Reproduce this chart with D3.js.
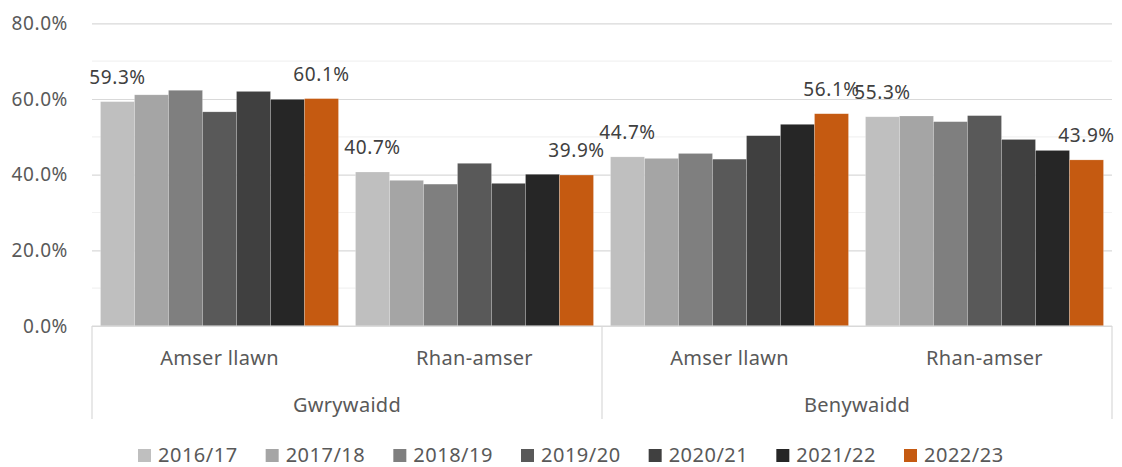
<!DOCTYPE html>
<html>
<head>
<meta charset="utf-8">
<script src="https://cdn.jsdelivr.net/npm/d3@7"></script>
<style>
    body { margin: 0; background: #fff; }
    svg { display: block; font-family: "Noto Sans", sans-serif; }
</style>
</head>
<body>
<div id="chart"></div>
<script>
// Data
var years = ["2016/17", "2017/18", "2018/19", "2019/20", "2020/21", "2021/22", "2022/23"];
var groups = ["Gwrywaidd", "Benywaidd"];
var categories = ["Amser llawn", "Rhan-amser"];

// one array per year: Gwrywaidd/Amser llawn, Gwrywaidd/Rhan-amser, Benywaidd/Amser llawn, Benywaidd/Rhan-amser
var v2016 = [59.3, 40.7, 44.7, 55.3];
var v2017 = [61.1, 38.5, 44.3, 55.5];
var v2018 = [62.3, 37.5, 45.6, 54.0];
var v2019 = [56.6, 43.0, 44.1, 55.6];
var v2020 = [62.0, 37.7, 50.3, 49.3];
var v2021 = [59.9, 40.1, 53.3, 46.4];
var v2022 = [60.1, 39.9, 56.1, 43.9];
var seriesValues = [v2016, v2017, v2018, v2019, v2020, v2021, v2022];

var yTicks = [0, 20, 40, 60, 80];
var yMinor = [10, 30, 50, 70];

var colors = ["#bfbfbf", "#a5a5a5", "#7f7f7f", "#595959", "#404040", "#262626", "#c55a11"];

var W = 1122, H = 467;
var plotLeft = 92, plotRight = 1112, plotTop = 23.3, plotBottom = 326;

var svg = d3.select("#chart").append("svg")
    .attr("width", W)
    .attr("height", H);

// clusters = group x category
var clusters = [];
groups.forEach(function (g) {
    categories.forEach(function (c) {
        clusters.push(g + "|" + c);
    });
});

var x0 = d3.scaleBand().domain(clusters).range([plotLeft, plotRight]);
var x1 = d3.scaleBand().domain(years).range([0, x0.bandwidth()]).paddingOuter(0.25);
var xg = d3.scaleBand().domain(groups).range([plotLeft, plotRight]);
var y = d3.scaleLinear().domain([0, 80]).range([plotBottom, plotTop]);

// minor gridlines
svg.append("g")
    .selectAll("line")
    .data(yMinor)
    .enter().append("line")
    .attr("x1", plotLeft).attr("x2", plotRight)
    .attr("y1", function (d) { return y(d); })
    .attr("y2", function (d) { return y(d); })
    .style("stroke", "#f2f2f2")
    .style("stroke-width", 1.2);

// major gridlines + labels
var yAxis = svg.append("g")
    .attr("transform", "translate(" + plotLeft + ",0)")
    .call(d3.axisLeft(y).tickValues(yTicks).tickSize(-(plotRight - plotLeft)).tickPadding(24)
        .tickFormat(function (d) { return d.toFixed(1) + "%"; }));
yAxis.select(".domain").remove();
yAxis.selectAll("line").style("stroke", "#d9d9d9").style("stroke-width", 1.2);
yAxis.selectAll("text")
    .style("font-size", "19px")
    .style("fill", "#595959")
    .style("letter-spacing", "0.6px")
    .style("font-family", "'Noto Sans', sans-serif");

// bars
var rows = [];
years.forEach(function (yr, i) {
    clusters.forEach(function (c, j) {
        rows.push({ year: yr, idx: i, cluster: c, ci: j, value: seriesValues[i][j] });
    });
});

svg.append("g")
    .selectAll("rect")
    .data(rows)
    .enter().append("rect")
    .attr("x", function (d) { return x0(d.cluster) + x1(d.year); })
    .attr("y", function (d) { return y(d.value); })
    .attr("width", x1.bandwidth())
    .attr("height", function (d) { return y(0) - y(d.value); })
    .style("fill", function (d) { return colors[d.idx]; })
    .style("stroke", "rgba(255,255,255,0.35)")
    .style("stroke-width", 0.6);

// data labels only on first and last series
svg.append("g")
    .selectAll("text")
    .data(rows.filter(function (d) { return d.idx === 0 || d.idx === years.length - 1; }))
    .enter().append("text")
    .attr("x", function (d) { return x0(d.cluster) + x1(d.year) + x1.bandwidth() / 2; })
    .attr("y", function (d) { return y(d.value) - 18; })
    .attr("text-anchor", "middle")
    .style("font-size", "19px")
    .style("letter-spacing", "0.6px")
    .style("fill", "#404040")
    .text(function (d) { return d.value.toFixed(1) + "%"; });

// category axis
svg.append("line")
    .attr("x1", plotLeft).attr("x2", plotRight)
    .attr("y1", plotBottom).attr("y2", plotBottom)
    .style("stroke", "#d9d9d9").style("stroke-width", 1.2);

var dividers = [plotLeft].concat(groups.map(function (g) { return xg(g) + xg.bandwidth(); }));
svg.append("g")
    .selectAll("line")
    .data(dividers)
    .enter().append("line")
    .attr("x1", function (d) { return d; })
    .attr("x2", function (d) { return d; })
    .attr("y1", plotBottom).attr("y2", 419)
    .style("stroke", "#d9d9d9").style("stroke-width", 1.2);

svg.append("g")
    .selectAll("text")
    .data(clusters)
    .enter().append("text")
    .attr("x", function (d) { return x0(d) + x0.bandwidth() / 2; })
    .attr("y", 365)
    .attr("text-anchor", "middle")
    .style("font-size", "20px")
    .style("letter-spacing", "0.3px")
    .style("fill", "#595959")
    .text(function (d) { return d.split("|")[1]; });

svg.append("g")
    .selectAll("text")
    .data(groups)
    .enter().append("text")
    .attr("x", function (d) { return xg(d) + xg.bandwidth() / 2; })
    .attr("y", 412)
    .attr("text-anchor", "middle")
    .style("font-size", "20px")
    .style("letter-spacing", "0.3px")
    .style("fill", "#595959")
    .text(function (d) { return d; });

// legend
var lx = d3.scalePoint().domain(years).range([138, 904]);
var legend = svg.append("g")
    .selectAll("g")
    .data(years)
    .enter().append("g")
    .attr("transform", function (d) { return "translate(" + lx(d) + ",449)"; });

legend.append("rect")
    .attr("width", 13).attr("height", 13)
    .style("fill", function (d, i) { return colors[i]; });

legend.append("text")
    .attr("x", 20)
    .attr("y", 13)
    .style("font-size", "20px")
    .style("letter-spacing", "0.5px")
    .style("fill", "#595959")
    .text(function (d) { return d; });
</script>
</body>
</html>
